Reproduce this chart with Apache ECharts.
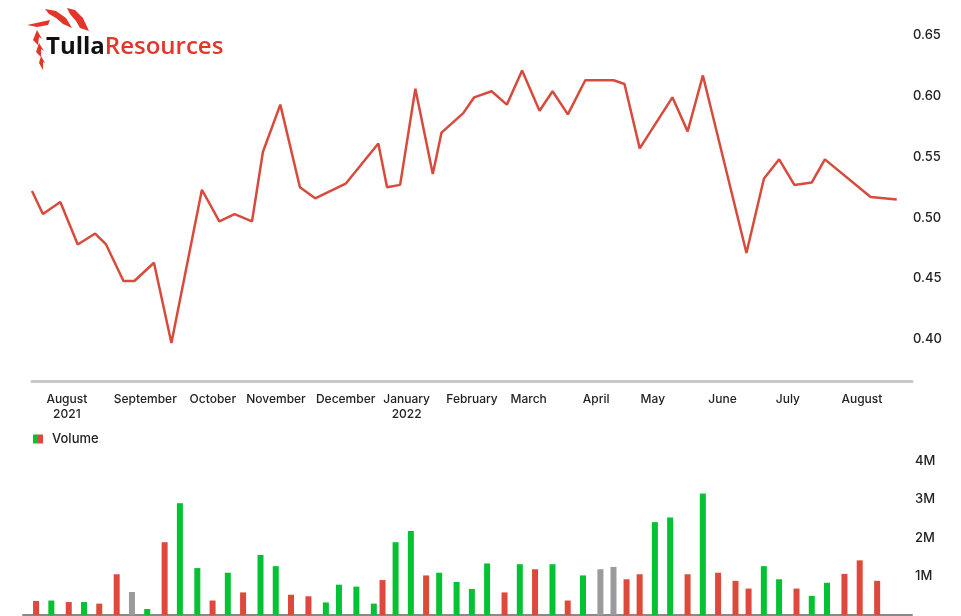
<!DOCTYPE html>
<html>
<head>
<meta charset="utf-8">
<script src="https://cdn.jsdelivr.net/npm/echarts@6/dist/echarts.min.js"></script>
<style>
  html, body { margin: 0; padding: 0; background: #fff; }
  #chart { width: 961px; height: 616px; }
</style>
</head>
<body>
<div id="chart"></div>
<script>
// closing prices (points of the line)
const priceDates = [
  '2021-07-16', '2021-07-21', '2021-07-29', '2021-08-06', '2021-08-14', '2021-08-19',
  '2021-08-27', '2021-09-01', '2021-09-10', '2021-09-18', '2021-10-02', '2021-10-10',
  '2021-10-17', '2021-10-25', '2021-10-30', '2021-11-07', '2021-11-16', '2021-11-23',
  '2021-12-07', '2021-12-22', '2021-12-26', '2022-01-01', '2022-01-08', '2022-01-16',
  '2022-01-20', '2022-01-30', '2022-02-04', '2022-02-12', '2022-02-19', '2022-02-26',
  '2022-03-06', '2022-03-12', '2022-03-19', '2022-03-27', '2022-04-09', '2022-04-14',
  '2022-04-21', '2022-05-06', '2022-05-13', '2022-05-20', '2022-06-09', '2022-06-17',
  '2022-06-24', '2022-07-01', '2022-07-09', '2022-07-15', '2022-08-05', '2022-08-17'
];
const priceValues = [
  0.522, 0.503, 0.513, 0.478, 0.487, 0.478,
  0.448, 0.448, 0.463, 0.397, 0.523, 0.497,
  0.503, 0.497, 0.554, 0.593, 0.525, 0.516,
  0.528, 0.561, 0.525, 0.527, 0.606, 0.536,
  0.570, 0.586, 0.599, 0.604, 0.593, 0.621,
  0.588, 0.604, 0.585, 0.613, 0.613, 0.610,
  0.557, 0.599, 0.571, 0.617, 0.471, 0.532,
  0.548, 0.527, 0.529, 0.548, 0.517, 0.515
];

// weekly volume
const volumeDates = [
  '2021-07-18', '2021-07-25', '2021-08-02', '2021-08-09', '2021-08-16', '2021-08-24',
  '2021-08-31', '2021-09-07', '2021-09-15', '2021-09-22', '2021-09-30', '2021-10-07',
  '2021-10-14', '2021-10-21', '2021-10-29', '2021-11-05', '2021-11-12', '2021-11-20',
  '2021-11-28', '2021-12-04', '2021-12-12', '2021-12-20', '2021-12-24', '2021-12-30',
  '2022-01-06', '2022-01-13', '2022-01-19', '2022-01-27', '2022-02-03', '2022-02-10',
  '2022-02-18', '2022-02-25', '2022-03-04', '2022-03-12', '2022-03-19', '2022-03-26',
  '2022-04-03', '2022-04-09', '2022-04-15', '2022-04-21', '2022-04-28', '2022-05-05',
  '2022-05-13', '2022-05-20', '2022-05-27', '2022-06-04', '2022-06-10', '2022-06-17',
  '2022-06-24', '2022-07-02', '2022-07-09', '2022-07-16', '2022-07-24', '2022-07-31',
  '2022-08-08'
];
const volumeValues = [
  370000, 380000, 340000, 340000, 300000, 1060000,
  600000, 160000, 1890000, 2900000, 1220000, 380000,
  1100000, 590000, 1560000, 1270000, 530000, 490000,
  330000, 790000, 740000, 300000, 910000, 1890000,
  2180000, 1030000, 1100000, 860000, 680000, 1340000,
  590000, 1320000, 1190000, 1320000, 380000, 1030000,
  1190000, 1250000, 930000, 1060000, 2410000, 2530000,
  1060000, 3150000, 1100000, 890000, 690000, 1270000,
  930000, 690000, 500000, 840000, 1070000, 1420000,
  890000
];
// u = close up, d = close down, n = unchanged
const volumeTrend = [
  'd', 'u', 'd', 'u', 'd', 'd',
  'n', 'u', 'd', 'u', 'u', 'd',
  'u', 'd', 'u', 'u', 'd', 'd',
  'u', 'u', 'u', 'u', 'd', 'u',
  'u', 'd', 'u', 'u', 'u', 'u',
  'd', 'u', 'd', 'u', 'd', 'u',
  'n', 'n', 'd', 'd', 'u', 'u',
  'd', 'u', 'd', 'd', 'd', 'u',
  'u', 'd', 'u', 'u', 'd', 'd',
  'd'
];

// axis labels
const monthTicks = [
  '2021-08-01', '2021-09-06', '2021-10-07', '2021-11-05', '2021-12-07', '2022-01-04',
  '2022-02-03', '2022-03-01', '2022-04-01', '2022-04-27', '2022-05-29', '2022-06-28',
  '2022-08-01'
];
const monthNames = [
  'August\n2021', 'September', 'October', 'November', 'December', 'January\n2022',
  'February', 'March', 'April', 'May', 'June', 'July',
  'August'
];
const priceTicks = [0.40, 0.45, 0.50, 0.55, 0.60, 0.65];
const volumeTicks = [1000000, 2000000, 3000000, 4000000];

const FONT = 'Inter, "Open Sans", sans-serif';
const GREEN = '#05c232';
const RED = '#dd4a3b';
const GREY = '#9b9b9b';

// 'YYYY-MM-DD' -> local midnight timestamp
function toTime(s) {
  const p = s.split('-').map(Number);
  return new Date(p[0], p[1] - 1, p[2]).getTime();
}
const monthTickTimes = monthTicks.map(toTime);

const chart = echarts.init(document.getElementById('chart'), null, { renderer: 'canvas' });

const option = {
  animation: false,
  backgroundColor: '#fff',
  textStyle: { fontFamily: FONT },
  graphic: [
    // logo
    { type: 'polygon', shape: { points: [[45, 9], [56, 11], [66, 18], [72, 28], [63, 24], [56, 18], [49, 14]] }, style: { fill: '#e4352b' } },
    { type: 'polygon', shape: { points: [[67, 8], [75, 10], [83, 18], [89, 31], [80, 28], [76, 21], [70, 14]] }, style: { fill: '#e4352b' } },
    { type: 'polygon', shape: { points: [[27, 25], [50, 20], [48, 25], [37, 27]] }, style: { fill: '#e4352b' } },
    { type: 'polygon', shape: { points: [[33, 40], [37, 30], [42, 39], [39, 37], [38, 45]] }, style: { fill: '#e4352b' } },
    { type: 'polygon', shape: { points: [[36, 52], [39, 43], [44, 51], [41, 49], [41, 57]] }, style: { fill: '#e4352b' } },
    { type: 'polygon', shape: { points: [[39, 63], [41, 56], [45, 63], [43, 62], [43, 70]] }, style: { fill: '#e4352b' } },
    {
      type: 'text',
      left: 46,
      top: 35,
      style: {
        text: '{a|Tulla}{b|Resources}',
        rich: {
          a: { fill: '#111', fontSize: 24, fontWeight: 700, fontFamily: '"Open Sans", sans-serif' },
          b: { fill: '#e4352b', fontSize: 24, fontWeight: 600, fontFamily: '"Open Sans", sans-serif' }
        }
      }
    }
  ],
  legend: {
    left: 28,
    top: 427,
    icon: 'rect',
    itemWidth: 10,
    itemHeight: 9,
    selectedMode: false,
    textStyle: { color: '#222', fontSize: 13, fontWeight: 500, fontFamily: FONT, padding: [0, 0, 0, 4], lineHeight: 14 },
    data: [{
      name: 'Volume',
      itemStyle: {
        color: new echarts.graphic.LinearGradient(0, 0, 1, 0, [
          { offset: 0, color: GREEN },
          { offset: 0.5, color: GREEN },
          { offset: 0.5, color: RED },
          { offset: 1, color: RED }
        ])
      }
    }]
  },
  grid: [
    { left: 32, right: 49, top: 35.3, height: 346, outerBoundsMode: 'none' },
    { left: 23, right: 49, top: 460.7, height: 154.5, outerBoundsMode: 'none' }
  ],
  xAxis: [
    {
      type: 'value',
      gridIndex: 0,
      min: toTime('2021-07-16'),
      max: toTime('2022-08-24'),
      axisLine: { show: true, onZero: false, lineStyle: { color: '#c8c8c8', width: 3 } },
      axisTick: { show: false },
      splitLine: { show: false },
      axisLabel: {
        customValues: monthTickTimes,
        margin: 11,
        color: '#222',
        fontSize: 12,
        fontWeight: 500,
        lineHeight: 15,
        fontFamily: FONT,
        formatter: (value) => {
          const i = monthTickTimes.indexOf(value);
          return i >= 0 ? monthNames[i] : '';
        }
      }
    },
    {
      type: 'value',
      gridIndex: 1,
      min: toTime('2021-07-12'),
      max: toTime('2022-08-24'),
      axisLine: { show: true, onZero: false, lineStyle: { color: '#8a8a8a', width: 2 } },
      axisTick: { show: false },
      axisLabel: { show: false },
      splitLine: { show: false }
    }
  ],
  yAxis: [
    {
      type: 'value',
      gridIndex: 0,
      position: 'right',
      min: 0.3655,
      max: 0.65,
      axisLine: { show: false },
      axisTick: { show: false },
      splitLine: { show: false },
      axisLabel: {
        customValues: priceTicks,
        margin: 1,
        color: '#222',
        fontSize: 13,
        fontWeight: 500,
        fontFamily: FONT,
        formatter: (v) => v.toFixed(2)
      }
    },
    {
      type: 'value',
      gridIndex: 1,
      position: 'right',
      min: 0,
      max: 4000000,
      axisLine: { show: false },
      axisTick: { show: false },
      splitLine: { show: false },
      axisLabel: {
        customValues: volumeTicks,
        margin: 3,
        color: '#222',
        fontSize: 13,
        fontWeight: 500,
        fontFamily: FONT,
        formatter: (v) => Math.round(v / 1000000) + 'M'
      }
    }
  ],
  series: [
    {
      name: 'Price',
      type: 'line',
      xAxisIndex: 0,
      yAxisIndex: 0,
      symbol: 'none',
      lineStyle: { color: '#d84a3c', width: 2.5 },
      data: priceDates.map((d, i) => [toTime(d), priceValues[i]])
    },
    {
      name: 'Volume',
      type: 'bar',
      xAxisIndex: 1,
      yAxisIndex: 1,
      barWidth: 6,
      data: volumeDates.map((d, i) => ({
        value: [toTime(d), volumeValues[i]],
        itemStyle: { color: volumeTrend[i] === 'u' ? GREEN : volumeTrend[i] === 'd' ? RED : GREY }
      }))
    }
  ]
};

chart.setOption(option);
</script>
</body>
</html>
